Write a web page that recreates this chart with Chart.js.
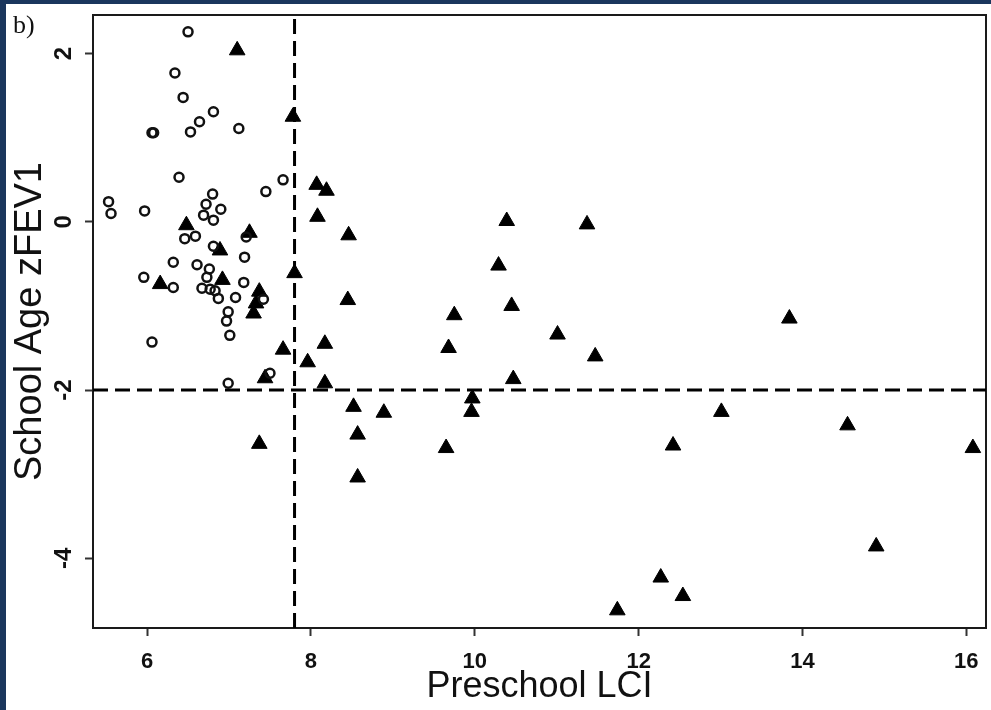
<!DOCTYPE html>
<html><head><meta charset="utf-8">
<script src="https://cdn.jsdelivr.net/npm/chart.js@4.4.1/dist/chart.umd.min.js"></script>
<style>
html,body{margin:0;padding:0;background:#1a365d;width:991px;height:710px;overflow:hidden}
#wrap{position:absolute;left:6px;top:4px;width:985px;height:706px;background:#fff}
canvas{display:block}
</style></head><body>
<div id="wrap"><canvas id="c" width="985" height="706"></canvas></div>
<script>
// Open circles (normal preschool LCI)
const openX = [6.50,6.34,6.44,6.81,6.64,6.53,6.06,6.08,7.12,6.39,7.66,7.45,5.53,5.56,5.97,6.80,6.72,6.90,6.69,6.81,
  6.46,6.59,6.81,7.21,7.19,6.32,6.61,6.76,5.96,6.73,7.18,6.32,6.67,6.77,6.83,6.87,7.08,7.42,6.99,6.97,7.01,7.50,6.99,6.06];
const openY = [2.26,1.77,1.48,1.31,1.19,1.07,1.06,1.06,1.11,0.53,0.50,0.36,0.24,0.10,0.13,0.33,0.21,0.15,0.08,0.02,
  -0.20,-0.17,-0.29,-0.18,-0.42,-0.48,-0.51,-0.56,-0.66,-0.66,-0.72,-0.78,-0.79,-0.80,-0.82,-0.91,-0.90,-0.92,-1.07,-1.18,-1.35,-1.80,-1.92,-1.43];
// Filled triangles
const triX = [7.10,7.78,8.07,8.19,8.08,8.46,6.48,7.25,6.89,7.80,6.16,6.92,7.37,7.33,7.30,8.45,7.66,7.96,8.17,7.44,8.17,8.52,8.89,8.57,8.57,7.37,
  10.39,10.29,10.45,9.75,9.68,10.47,9.97,9.96,9.65,11.37,11.01,11.47,13.84,13.01,14.55,12.42,16.08,14.90,12.27,12.54,11.74];
const triY = [2.04,1.25,0.44,0.37,0.06,-0.16,-0.04,-0.13,-0.34,-0.61,-0.74,-0.69,-0.83,-0.97,-1.09,-0.93,-1.52,-1.67,-1.45,-1.86,-1.92,-2.20,-2.27,-2.53,-3.04,-2.64,
  0.01,-0.52,-1.00,-1.11,-1.50,-1.87,-2.10,-2.26,-2.69,-0.03,-1.34,-1.60,-1.15,-2.26,-2.42,-2.66,-2.69,-3.86,-4.23,-4.45,-4.62];
const xTickValues = [6,8,10,12,14,16];
const yTickValues = [-4,-2,0,2];
const lciLimit = 7.8;
const fevLimit = -2;
const xRange = [5.34, 16.24];
const yRange = [-4.83, 2.46];
const xTitle = 'Preschool LCI';
const yTitle = 'School Age zFEV1';
const panelLabel = 'b)';

const toPts = (xs, ys) => xs.map((x, i) => ({x, y: ys[i]}));
const noPad = () => ({left: 0, top: 0, right: 0, bottom: 0});

const framePlugin = {
  id: 'frame',
  beforeDatasetsDraw(chart) {
    const {ctx, chartArea: a} = chart;
    ctx.save();
    ctx.strokeStyle = '#1a1a1a';
    ctx.lineWidth = 2;
    ctx.strokeRect(a.left, a.top, a.right - a.left, a.bottom - a.top);
    ctx.restore();
  },
  afterDraw(chart) {
    const {ctx} = chart;
    ctx.save();
    ctx.fillStyle = '#111';
    ctx.font = '26px "Liberation Serif", "Times New Roman", serif';
    ctx.textBaseline = 'alphabetic';
    ctx.fillText(panelLabel, 7, 29);
    ctx.restore();
  }
};

new Chart(document.getElementById('c'), {
  type: 'scatter',
  data: {
    datasets: [
      { label: 'normal', data: toPts(openX, openY), order: 0,
        pointStyle: 'circle', pointRadius: 4.5, pointBorderWidth: 2.5,
        pointBackgroundColor: 'rgba(0,0,0,0)', pointBorderColor: '#111' },
      { label: 'abnormal', data: toPts(triX, triY), order: 1,
        pointStyle: 'triangle', pointRadius: 9, pointBorderWidth: 1,
        pointBackgroundColor: '#000', pointBorderColor: '#000' },
      { label: 'lci', data: [{x: lciLimit, y: yRange[0]}, {x: lciLimit, y: yRange[1]}], order: 2,
        showLine: true, pointRadius: 0, borderColor: '#000', borderWidth: 3, borderDash: [15, 7] },
      { label: 'fev', data: [{x: xRange[0], y: fevLimit}, {x: xRange[1], y: fevLimit}], order: 3,
        showLine: true, pointRadius: 0, borderColor: '#000', borderWidth: 3, borderDash: [15, 7] }
    ]
  },
  options: {
    responsive: false,
    animation: false,
    devicePixelRatio: 1,
    layout: { autoPadding: false, padding: { left: 0, right: 5, top: 11, bottom: 0 } },
    plugins: { legend: { display: false }, tooltip: { enabled: false } },
    scales: {
      x: {
        type: 'linear', min: xRange[0], max: xRange[1],
        afterBuildTicks: s => { s.ticks = xTickValues.map(v => ({value: v})); },
        afterFit: s => { s.height = 82; s.paddingLeft = 0; s.paddingRight = 0; s.getPadding = noPad; },
        border: { display: false },
        grid: { drawOnChartArea: false, drawTicks: true, tickLength: 8, tickColor: '#333', tickWidth: 2 },
        ticks: { color: '#111', padding: 13, maxRotation: 0, font: { family: '"Liberation Sans", Arial, sans-serif', size: 22, weight: 'bold' } },
        title: { display: true, text: xTitle, color: '#111', padding: { top: 0, bottom: 1 },
          font: { family: '"Liberation Sans", Arial, sans-serif', size: 36, weight: 'normal' } }
      },
      y: {
        type: 'linear', min: yRange[0], max: yRange[1],
        afterBuildTicks: s => { s.ticks = yTickValues.map(v => ({value: v})); },
        afterFit: s => { s.width = 87; s.paddingTop = 0; s.paddingBottom = 0; s.getPadding = noPad; },
        border: { display: false },
        grid: { drawOnChartArea: false, drawTicks: true, tickLength: 8, tickColor: '#333', tickWidth: 2 },
        ticks: { color: '#111', padding: 10, minRotation: 90, maxRotation: 90, crossAlign: 'center',
          font: { family: '"Liberation Sans", Arial, sans-serif', size: 24, weight: 'bold' } },
        title: { display: true, text: yTitle, color: '#111', padding: { top: 2, bottom: 0 },
          font: { family: '"Liberation Sans", Arial, sans-serif', size: 38, weight: 'normal' } }
      }
    }
  },
  plugins: [framePlugin]
});
</script>
</body></html>
